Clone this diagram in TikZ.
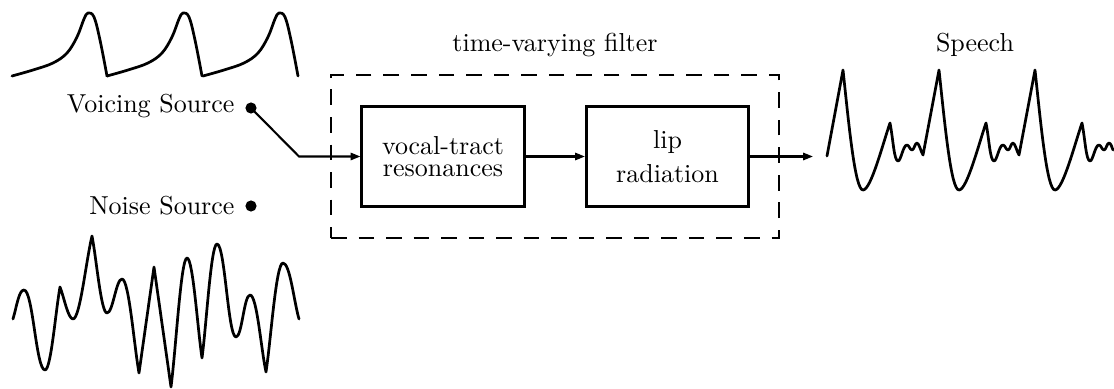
\documentclass[tikz,border=0pt]{standalone}
\usetikzlibrary{arrows.meta}
\begin{document}
\begin{tikzpicture}[x=0.385pt,y=0.385pt,
  wave/.style={line width=1.05pt, line join=round, line cap=round},
  conn/.style={line width=0.8pt, -{Triangle[length=3.8pt,width=2.8pt]}},
  block/.style={draw, line width=1.15pt, minimum width=62.4pt, minimum height=38.8pt, inner sep=0pt, align=center},
  filterbox/.style={draw, line width=1.1pt, dash pattern=on 6pt off 4.6pt, minimum width=172.5pt, minimum height=62.8pt, inner sep=0pt},
  srcdot/.style={circle, fill=black, minimum size=4.3pt, inner sep=0pt},
  lbl/.style={anchor=base, inner sep=0pt}]
\useasboundingbox (0,0) rectangle (1114,388);

% voicing source waveform
\foreach \t in {12,107,203}
  \draw[wave, shift={(\t,0)}] plot[smooth, tension=0.6] coordinates
    {(0,312) (21,318) (41,325) (55,335) (65,351) (72,369) (76,375) (82,371) (88,348) (95,312)};

% noise source waveform
\draw[wave] (13,69)
  .. controls (17,83) and (19,98) .. (24,98)
  .. controls (33,98) and (36,18) .. (45,18)
  .. controls (51,18) and (55.5,76) .. (60,101)
  .. controls (64,91) and (68,69) .. (73,69)
  .. controls (80,69) and (86,127) .. (92,152)
  .. controls (96.5,129) and (101,75) .. (107,75)
  .. controls (113,75) and (116,109) .. (122,109)
  .. controls (129,109) and (134,43) .. (139,15)
  -- (154,121) -- (171,1)
  .. controls (176,40) and (181,130) .. (187,130)
  .. controls (193,130) and (197.5,60) .. (202,30)
  .. controls (206.5,64) and (211,144) .. (217,144)
  .. controls (225,144) and (228,51) .. (236,51)
  .. controls (242,51) and (244,93) .. (250,93)
  .. controls (257,93) and (261,39) .. (266,16)
  .. controls (271,49) and (276,125) .. (283,125)
  .. controls (290,125) and (294,86) .. (299,69);

% speech waveform
\draw[wave] (827,232) -- (843,318)
  .. controls (849,262) and (855,198) .. (863,198)
  .. controls (871,198) and (883,245) .. (890,265)
  .. controls (893,250) and (894,227) .. (898,227)
  .. controls (901,227) and (903,243) .. (907,243)
  .. controls (909,243) and (910,238) .. (912,238)
  .. controls (914,238) and (915,245) .. (917,245)
  .. controls (919,245) and (921,236) .. (923,233)
  -- (939,318)
  .. controls (945,262) and (951,198) .. (959,198)
  .. controls (967,198) and (979,245) .. (986,265)
  .. controls (989,250) and (990,227) .. (994,227)
  .. controls (997,227) and (999,243) .. (1003,243)
  .. controls (1005,243) and (1006,238) .. (1008,238)
  .. controls (1010,238) and (1011,245) .. (1013,245)
  .. controls (1015,245) and (1017,236) .. (1019,233)
  -- (1035,318)
  .. controls (1041,262) and (1047,198) .. (1055,198)
  .. controls (1063,198) and (1075,245) .. (1082,265)
  .. controls (1085,250) and (1086,227) .. (1090,227)
  .. controls (1093,227) and (1095,243) .. (1099,243)
  .. controls (1101,243) and (1102,238) .. (1104,238)
  .. controls (1106,238) and (1107,245) .. (1109,245)
  .. controls (1111,245) and (1112,240) .. (1113,238);

% labels and sources
\node[anchor=base east, inner sep=0pt] (vlabel) at (235,275) {Voicing Source};
\node[srcdot] (vdot) at (251,280) {};
\node[anchor=base east, inner sep=0pt] (nlabel) at (235,173) {Noise Source};
\node[srcdot] (ndot) at (251,182) {};

% filter
\node[filterbox] (filter) at (555,231.5) {};
\node[lbl] (flabel) at (555,336) {time-varying filter};
\node[block, font=\fontsize{10}{8.2}\selectfont] (tract) at (443,231.5) {vocal-tract\\resonances};
\node[block, font=\fontsize{10}{13}\selectfont] (lip) at (667.5,231.5) {lip\\radiation};
\node[lbl] (speech) at (975,336) {Speech};

\coordinate (bend) at (299,231.5);
\coordinate (outend) at (813,231.5);
\draw[conn] (vdot.center) -- (bend) -- (tract.west);
\draw[conn] (tract.east) -- (lip.west);
\draw[conn] (lip.east) -- (outend);
\end{tikzpicture}
\end{document}
